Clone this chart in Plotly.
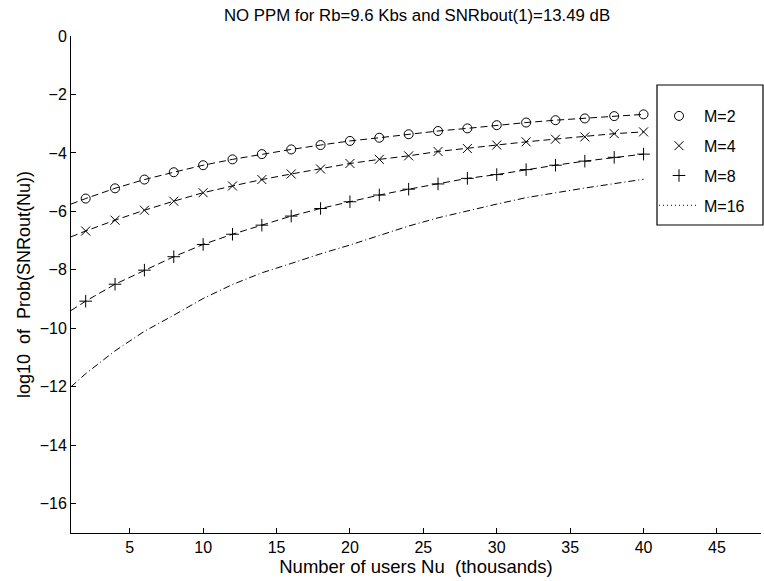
import plotly.graph_objects as go

# x positions (thousands of users) where markers are drawn
x_mark = [2, 4, 6, 8, 10, 12, 14, 16, 18, 20, 22, 24, 26, 28, 30, 32, 34, 36, 38, 40]
x_start = 1

m2 = [-5.56, -5.21, -4.91, -4.66, -4.42, -4.22, -4.04, -3.88, -3.73, -3.59,
      -3.48, -3.36, -3.25, -3.16, -3.05, -2.96, -2.88, -2.82, -2.74, -2.68]
m2_start = -5.75
m4 = [-6.67, -6.30, -5.96, -5.65, -5.36, -5.13, -4.91, -4.72, -4.55, -4.36,
      -4.22, -4.10, -3.95, -3.85, -3.73, -3.62, -3.53, -3.45, -3.34, -3.28]
m4_start = -6.87
m8 = [-9.07, -8.49, -8.01, -7.55, -7.13, -6.78, -6.47, -6.16, -5.90, -5.67,
      -5.44, -5.24, -5.06, -4.87, -4.74, -4.57, -4.42, -4.28, -4.15, -4.04]
m8_start = -9.39
m16 = [-11.55, -10.77, -10.10, -9.55, -8.98, -8.50, -8.10, -7.78, -7.45, -7.15,
       -6.82, -6.50, -6.22, -5.98, -5.75, -5.53, -5.36, -5.20, -5.05, -4.90]
m16_start = -12.0

names = ["M=2", "M=4", "M=8", "M=16"]
x_ticks = [5, 10, 15, 20, 25, 30, 35, 40, 45]
y_ticks = [0, -2, -4, -6, -8, -10, -12, -14, -16]

title = "NO PPM for Rb=9.6 Kbs and SNRbout(1)=13.49 dB"
x_title = "Number of users Nu\u00a0\u00a0(thousands)"
y_title = "log10\u00a0\u00a0of\u00a0\u00a0Prob(SNRout(Nu))"

FONT = "Liberation Sans, Arial, sans-serif"
x_line = [x_start] + x_mark

W, H = 764, 581
ML, MR, MT, MB = 71, 3, 36, 48
PW, PH = W - ML - MR, H - MT - MB


def px_x(p):
    return (p - ML) / PW


def px_y(p):
    return (H - MB - p) / PH


fig = go.Figure()

series = [
    (names[0], m2_start, m2, "circle-open"),
    (names[1], m4_start, m4, "x-thin"),
    (names[2], m8_start, m8, "cross-thin"),
]
for name, s, vals, sym in series:
    fig.add_trace(go.Scatter(
        x=x_line, y=[s] + vals, mode="lines", showlegend=False,
        legendgroup=name,
        line=dict(color="black", width=1, dash="7px,4px"),
        hoverinfo="skip"))
    fig.add_trace(go.Scatter(
        x=x_mark, y=vals, mode="markers", name=name, legendgroup=name,
        marker=dict(symbol=sym, size=9, color="black",
                    line=dict(color="black", width=1))))

fig.add_trace(go.Scatter(
    x=x_line, y=[m16_start] + m16, mode="lines", showlegend=False,
    legendgroup=names[3],
    line=dict(color="black", width=1, dash="7px,3px,1px,3px")))
fig.add_trace(go.Scatter(
    x=[None], y=[None], mode="lines", name=names[3], legendgroup=names[3],
    line=dict(color="black", width=1, dash="1px,3px")))

fig.update_layout(
    width=W, height=H,
    margin=dict(l=ML, r=MR, t=MT, b=MB),
    paper_bgcolor="white", plot_bgcolor="white",
    font=dict(family=FONT, size=16, color="black"),
    title=dict(text=title, x=417 / W, xanchor="center", y=1 - 15 / H,
               yanchor="middle",
               font=dict(family=FONT, size=16.8, color="black")),
    showlegend=True,
    legend=dict(x=px_x(654), y=px_y(99), xanchor="left", yanchor="top",
                borderwidth=0, bgcolor="rgba(0,0,0,0)",
                tracegroupgap=6, font=dict(family=FONT, size=16),
                itemwidth=40),
    shapes=[dict(type="rect", xref="paper", yref="paper",
                 x0=px_x(657), x1=px_x(763), y0=px_y(225), y1=px_y(85),
                 line=dict(color="black", width=1.2), fillcolor="rgba(0,0,0,0)")],
    xaxis=dict(range=[1, 48], tickvals=x_ticks, ticks="inside", ticklen=5,
               tickcolor="black", showline=True, linecolor="black", linewidth=1,
               showgrid=False, zeroline=False, mirror=False,
               tickfont=dict(size=16),
               title=dict(text=x_title, standoff=2,
                          font=dict(family=FONT, size=18.5))),
    yaxis=dict(range=[-17, 0], tickvals=y_ticks, ticks="inside", ticklen=5,
               tickcolor="black", showline=True, linecolor="black", linewidth=1,
               showgrid=False, zeroline=False, mirror=False,
               tickfont=dict(size=16),
               title=dict(text=y_title, standoff=4,
                          font=dict(family=FONT, size=18))),
)

fig.write_html("out.html")
